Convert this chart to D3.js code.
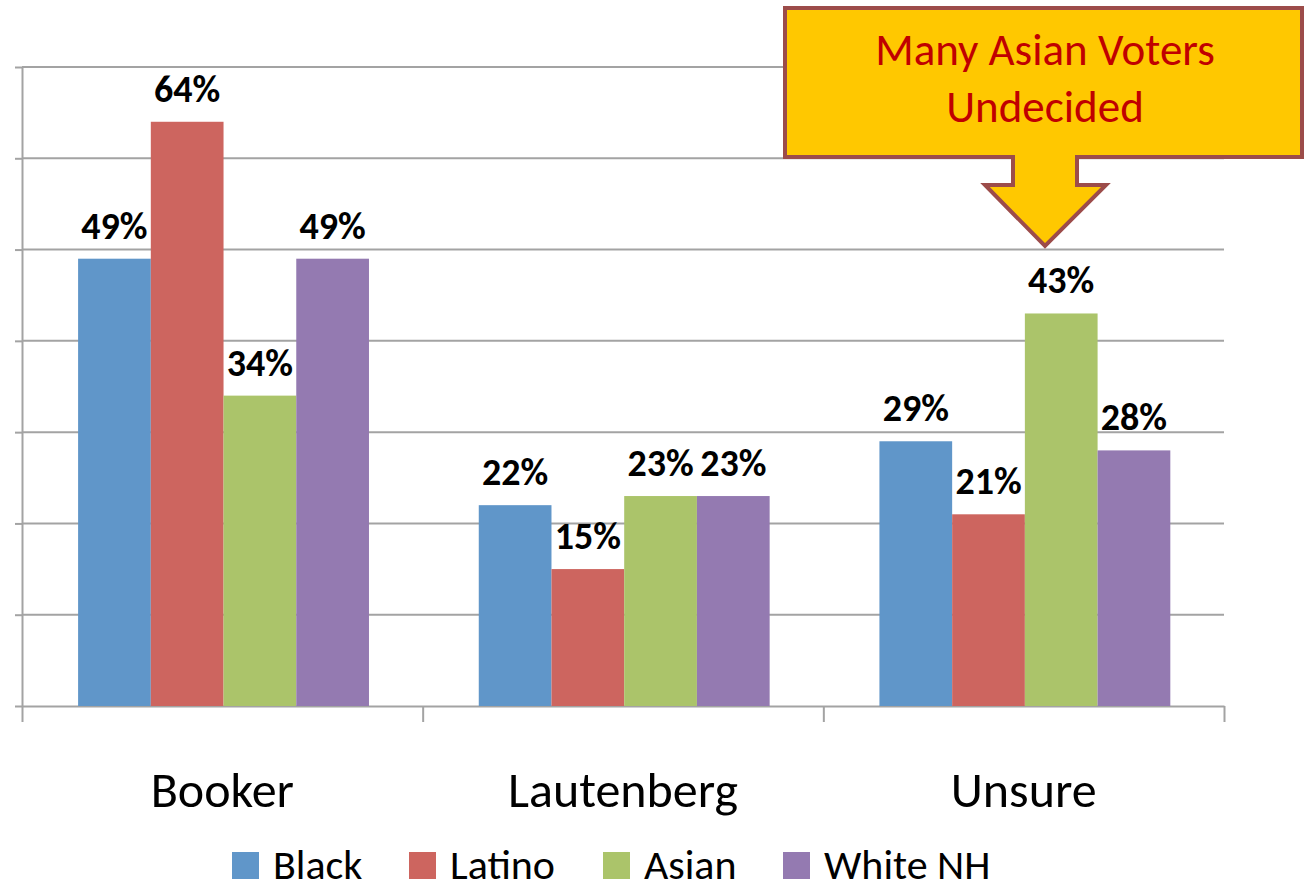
<!DOCTYPE html>
<html lang="en">
<head>
<meta charset="utf-8">
<title>Booker vs Lautenberg by group</title>
<script src="https://cdn.jsdelivr.net/npm/d3@7"></script>
<style>
  body { margin: 0; background: #fff; }
  svg { display: block; font-family: Carlito, Calibri, Lato, sans-serif; }
  .grid line { stroke: #a3a3a3; stroke-width: 2; }
  .axis path, .axis line { stroke: #a3a3a3; stroke-width: 2; fill: none; }
  .axis text { display: none; }
</style>
</head>
<body>
<script>
var candidates = ["Booker", "Lautenberg", "Unsure"];
var groups = ["Black", "Latino", "Asian", "White NH"];
var black = [49, 22, 29];
var latino = [64, 15, 21];
var asian = [34, 23, 43];
var whiteNH = [49, 23, 28];
var yTicks = [0, 10, 20, 30, 40, 50, 60, 70];
var colors = ["#6096c9", "#cd655f", "#abc46a", "#947ab1"];
var calloutLines = ["Many Asian Voters", "Undecided"];

var series = [black, latino, asian, whiteNH];

var width = 1304, height = 891;
var margin = {top: 67, right: 80, bottom: 185, left: 22};

var svg = d3.select("body").append("svg")
    .attr("width", width)
    .attr("height", height);

var g = svg.append("g")
    .attr("transform", "translate(" + margin.left + "," + margin.top + ")");

var w = width - margin.left - margin.right,
    h = height - margin.top - margin.bottom;

var x0 = d3.scaleBand().domain(candidates).range([0, w]);
var x1 = d3.scaleBand().domain(groups)
    .range([x0.bandwidth() * 0.14, x0.bandwidth() * 0.866]);
var y = d3.scaleLinear().domain([0, 70]).range([h, 0]);
var color = d3.scaleOrdinal().domain(groups).range(colors);

// gridlines
g.append("g").attr("class", "grid")
  .selectAll("line")
  .data(yTicks.slice(1))
  .enter().append("line")
    .attr("x1", 0).attr("x2", w)
    .attr("y1", function(d) { return y(d); })
    .attr("y2", function(d) { return y(d); });

// y axis (ticks only)
g.append("g").attr("class", "axis")
  .call(d3.axisLeft(y).tickValues(yTicks).tickSize(7).tickSizeOuter(0));

// x axis with category boundary ticks
var xb = d3.scaleLinear().domain([0, candidates.length]).range([0, w]);
g.append("g").attr("class", "axis")
  .attr("transform", "translate(0," + h + ")")
  .call(d3.axisBottom(xb).tickValues(d3.range(candidates.length + 1)).tickSize(16).tickSizeOuter(0));

// bars
var cat = g.selectAll(".cat")
  .data(candidates)
  .enter().append("g")
    .attr("class", "cat")
    .attr("transform", function(d) { return "translate(" + x0(d) + ",0)"; });

function rows(d, i) {
  return groups.map(function(gr, j) { return {group: gr, value: series[j][i]}; });
}

cat.selectAll("rect")
  .data(rows)
  .enter().append("rect")
    .attr("x", function(d) { return x1(d.group); })
    .attr("width", x1.bandwidth())
    .attr("y", function(d) { return y(d.value); })
    .attr("height", function(d) { return h - y(d.value); })
    .style("fill", function(d) { return color(d.group); });

cat.selectAll(".lbl")
  .data(rows)
  .enter().append("text")
    .attr("class", "lbl")
    .attr("x", function(d) { return x1(d.group) + x1.bandwidth() / 2; })
    .attr("y", function(d) { return y(d.value) - 20; })
    .attr("text-anchor", "middle")
    .style("font-size", "38px")
    .style("font-weight", "bold")
    .style("fill", "#000")
    .text(function(d) { return d.value + "%"; });

// category labels
g.selectAll(".catlbl")
  .data(candidates)
  .enter().append("text")
    .attr("class", "catlbl")
    .attr("x", function(d) { return x0(d) + x0.bandwidth() / 2; })
    .attr("y", h + 101)
    .attr("text-anchor", "middle")
    .style("font-size", "50px")
    .style("fill", "#000")
    .text(function(d) { return d; });

// legend
var legendX = [232, 409, 603, 783];
var legend = svg.selectAll(".leg")
  .data(groups)
  .enter().append("g")
    .attr("class", "leg")
    .attr("transform", function(d, i) { return "translate(" + legendX[i] + ",852)"; });
legend.append("rect")
  .attr("width", 27).attr("height", 27)
  .style("fill", function(d) { return color(d); });
legend.append("text")
  .attr("x", 41).attr("y", 27)
  .style("font-size", "42px")
  .style("fill", "#000")
  .text(function(d) { return d; });

// callout annotation
var co = {x: 785, y: 8, w: 517, h: 149, sx1: 1013, sx2: 1077, hy: 185, hx1: 985, hx2: 1106, tx: 1045, ty: 246};
var path = d3.path();
path.moveTo(co.x, co.y);
path.lineTo(co.x + co.w, co.y);
path.lineTo(co.x + co.w, co.y + co.h);
path.lineTo(co.sx2, co.y + co.h);
path.lineTo(co.sx2, co.hy);
path.lineTo(co.hx2, co.hy);
path.lineTo(co.tx, co.ty);
path.lineTo(co.hx1, co.hy);
path.lineTo(co.sx1, co.hy);
path.lineTo(co.sx1, co.y + co.h);
path.lineTo(co.x, co.y + co.h);
path.closePath();
svg.append("path")
  .attr("d", path.toString())
  .style("fill", "#ffc800")
  .style("stroke", "#9c4c4a")
  .style("stroke-width", 4)
  .style("stroke-linejoin", "miter");

svg.selectAll(".callout")
  .data(calloutLines)
  .enter().append("text")
    .attr("class", "callout")
    .attr("x", co.tx)
    .attr("y", function(d, i) { return 65 + i * 57; })
    .attr("text-anchor", "middle")
    .style("font-size", "45px")
    .style("fill", "#c00000")
    .text(function(d) { return d; });
</script>
</body>
</html>
